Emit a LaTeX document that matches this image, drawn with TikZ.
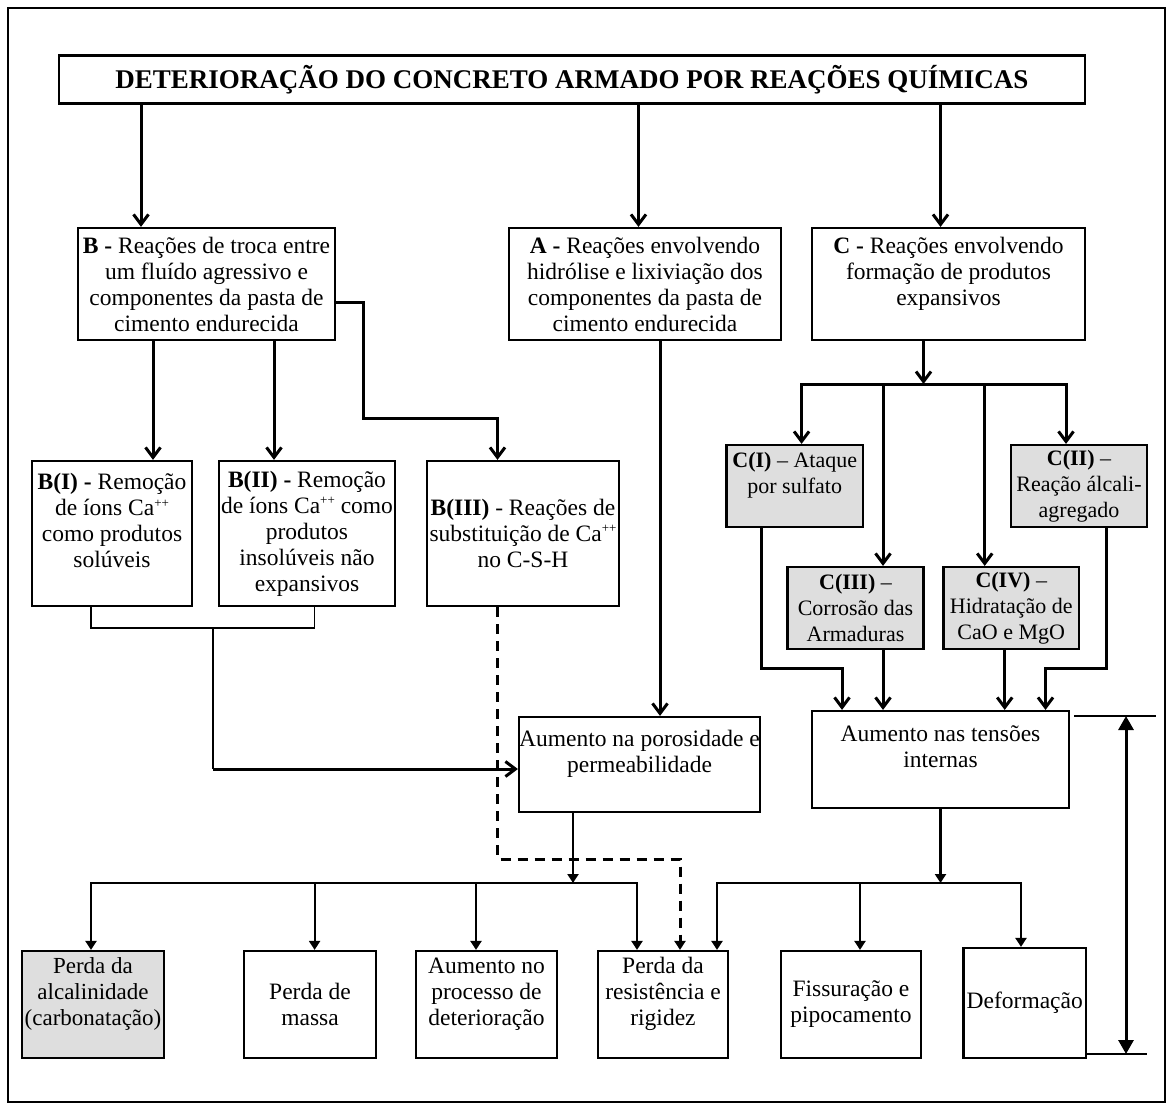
\documentclass[tikz,border=0pt]{standalone}
\usepackage{fontspec}
\setmainfont{Liberation Serif}
\usetikzlibrary{arrows.meta}

\newcommand{\txt}{\fontsize{23.5}{26}\selectfont}
\newcommand{\smtxt}{\fontsize{22}{26}\selectfont}
\newcommand{\ttl}{\fontsize{27}{30}\selectfont\bfseries}
\newcommand{\pp}{\raisebox{0.8ex}{\fontsize{13}{13}\selectfont ++}}

\tikzset{
  box/.style={draw, line width=2.2pt, align=center, inner sep=0pt, font=\txt},
  gbox/.style={box, fill=black!13},
  arr/.style={line width=3pt, -{Straight Barb[length=10pt,width=15pt]}},
  tri/.style={line width=2.2pt, -{Triangle[length=9pt,width=11pt]}},
  dsh/.style={line width=3pt, dash pattern=on 10pt off 7pt, -{Triangle[length=9pt,width=11pt]}},
  thn/.style={line width=1.5pt},
  dbl/.style={line width=3pt, {Triangle[length=14pt,width=15pt]}-{Triangle[length=14pt,width=15pt]}}
}

\begin{document}
\begin{tikzpicture}[x=1pt, y=-1pt]

   \useasboundingbox (0,0) rectangle (1172,1108);
   \draw [line width=2.5pt] (8,8) rectangle (1165,1102);

   % title and the three groups
   \node [box, minimum width=1026pt, minimum height=48pt, font=\ttl] (T) at (572,79.5)
      {DETERIORAÇÃO DO CONCRETO ARMADO POR REAÇÕES QUÍMICAS};
   \node [box, minimum width=257pt, minimum height=112pt] (B) at (206.5,284)
      {\textbf{B -} Reações de troca entre\\ um fluído agressivo e\\ componentes da pasta de\\ cimento endurecida};
   \node [box, minimum width=272pt, minimum height=112pt] (A) at (645,284)
      {\textbf{A -} Reações envolvendo\\ hidrólise e lixiviação dos\\ componentes da pasta de\\ cimento endurecida};
   \node [box, minimum width=273pt, minimum height=112pt] (C) at (948.5,284)
      {\textbf{C -} Reações envolvendo\\ formação de produtos\\ expansivos\\ \mbox{}};

   % B subgroups
   \node [box, minimum width=160pt, minimum height=145pt] (B1) at (112,533.5)
      {\textbf{B(I) -} Remoção\\ de íons Ca\pp\\ como produtos\\ solúveis\\ \mbox{}};
   \node [box, minimum width=176pt, minimum height=145pt] (B2) at (307,533.5)
      {\textbf{B(II) -} Remoção\\ de íons Ca\pp{} como\\ produtos\\ insolúveis não\\ expansivos};
   \node [box, minimum width=192pt, minimum height=145pt] (B3) at (523,533.5)
      {\textbf{B(III)} - Reações de\\ substituição de Ca\pp\\ no C-S-H};

   % C subgroups
   \node [gbox, font=\smtxt, minimum width=136.5pt, minimum height=82pt] (C1) at (794.75,486)
      {\textbf{C(I)} – Ataque\\ por sulfato\\ \mbox{}};
   \node [gbox, font=\smtxt, minimum width=136pt, minimum height=82pt] (C2) at (1079,486)
      {\textbf{C(II)} –\\ Reação álcali-\\ agregado};
   \node [gbox, font=\smtxt, minimum width=136pt, minimum height=82pt] (C3) at (855.5,608)
      {\textbf{C(III)} –\\ Corrosão das\\ Armaduras};
   \node [gbox, font=\smtxt, minimum width=135.5pt, minimum height=82pt] (C4) at (1011.25,608)
      {\textbf{C(IV)} –\\ Hidratação de\\ CaO e MgO};

   % intermediate effects
   \node [box, minimum width=241pt, minimum height=95pt] (P) at (639.5,764.5)
      {Aumento na porosidade e\\ permeabilidade\\ \mbox{}};
   \node [box, minimum width=257pt, minimum height=97pt] (S) at (940.5,759.5)
      {Aumento nas tensões\\ internas\\ \mbox{}};

   % final effects
   \node [gbox, font=\fontsize{23}{26}\selectfont, minimum width=142pt, minimum height=107pt] (D1) at (93,1004.5)
      {Perda da\\ alcalinidade\\ (carbonatação)\\ \mbox{}};
   \node [box, minimum width=132pt, minimum height=107pt] (D2) at (310,1004.5)
      {Perda de\\ massa};
   \node [box, minimum width=141pt, minimum height=107pt] (D3) at (486.5,1004.5)
      {Aumento no\\ processo de\\ deterioração\\ \mbox{}};
   \node [box, minimum width=130pt, minimum height=107pt] (D4) at (663,1004.5)
      {Perda da\\ resistência e\\ rigidez\\ \mbox{}};
   \node [box, minimum width=140pt, minimum height=107pt] (D5) at (851,1004.5)
      {Fissuração e\\ pipocamento};
   \node [box, minimum width=122.5pt, minimum height=110pt] (D6) at (1024.75,1003)
      {Deformação};

   % from the title
   \draw [arr] (141,0 |- T.south) -- (141,0 |- B.north);
   \draw [arr] (638.5,0 |- T.south) -- (638.5,0 |- A.north);
   \draw [arr] (940.5,0 |- T.south) -- (940.5,0 |- C.north);

   % group B
   \draw [arr] (153,0 |- B.south) -- (153,0 |- B1.north);
   \draw [arr] (274,0 |- B.south) -- (274,0 |- B2.north);
   \draw [arr] (B.east |- 0,302) -| (363,418) -| (497.5,0 |- B3.north);
   \draw [thn] (91,0 |- B1.south) -- (91,628) -- (314.6,628) -- (314.6,0 |- B2.south);
   \draw [thn] (213,628) -- (213,769);
   \draw [arr] (213,769) -- (P.west |- 0,769);
   \draw [dsh] (497.5,0 |- B3.south) |- (680,859) -- (680,0 |- D4.north);

   % group A
   \draw [arr] (660,0 |- A.south) -- (660,0 |- P.north);

   % group C
   \draw [arr] (923.5,0 |- C.south) -- (923.5,384);
   \draw [line width=3pt, line cap=rect] (801.6,384) -- (1066,384);
   \draw [arr] (801.6,384) -- (801.6,0 |- C1.north);
   \draw [arr] (883,384) -- (883,0 |- C3.north);
   \draw [arr] (984.7,384) -- (984.7,0 |- C4.north);
   \draw [arr] (1066,384) -- (1066,0 |- C2.north);
   \draw [arr] (761,0 |- C1.south) |- (842,668) -- (842,0 |- S.north);
   \draw [arr] (883,0 |- C3.south) -- (883,0 |- S.north);
   \draw [arr] (1004.7,0 |- C4.south) -- (1004.7,0 |- S.north);
   \draw [arr] (1106.6,0 |- C2.south) |- (1045.5,668) -- (1045.5,0 |- S.north);

   % effects
   \draw [tri] (573,0 |- P.south) -- (573,883);
   \draw [line width=2.2pt, line cap=rect] (91,883) -- (637,883);
   \foreach \x/\n in {91/D1, 314.6/D2, 476/D3, 637/D4}
      \draw [tri] (\x,883) -- (\x,0 |- \n.north);
   \draw [tri] (S.south) -- (940.5,883);
   \draw [line width=2.2pt, line cap=rect] (717,883) -- (1021,883);
   \foreach \x/\n in {717/D4, 860/D5, 1021/D6}
      \draw [tri] (\x,883) -- (\x,0 |- \n.north);

   % scale on the right
   \draw [thn] (1074,716) -- (1156,716);
   \draw [thn] (D6.east |- 0,1054) -- (1147,1054);
   \draw [dbl] (1126,716) -- (1126,1054);

\end{tikzpicture}
\end{document}
